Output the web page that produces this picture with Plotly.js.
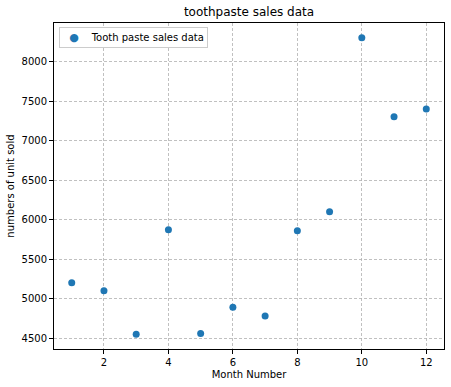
<!DOCTYPE html>
<html>
<head>
<meta charset="utf-8">
<script src="https://cdn.plot.ly/plotly-3.0.1.min.js"></script>
<style>html,body{margin:0;padding:0;background:#fff;}#chart{width:451px;height:387px;}</style>
</head>
<body>
<div id="chart"></div>
<script>
const months = [1, 2, 3, 4, 5, 6, 7, 8, 9, 10, 11, 12];
const toothpaste = [5200, 5100, 4550, 5870, 4560, 4890, 4780, 5860, 6100, 8300, 7300, 7400];
const xTicks = [2, 4, 6, 8, 10, 12];
const yTicks = [4500, 5000, 5500, 6000, 6500, 7000, 7500, 8000];
const seriesName = 'Tooth paste sales data';
const seriesColor = '#1f77b4';

const font = "DejaVu Sans, sans-serif";
const trace = {
  x: months, y: toothpaste, type: 'scatter', mode: 'markers',
  name: seriesName,
  marker: {color: seriesColor, size: 7}
};
const axisCommon = {
  showline: true, linecolor: '#000', linewidth: 1, mirror: true,
  ticks: 'outside', ticklen: 4, tickwidth: 1, tickcolor: '#000',
  showgrid: true, gridcolor: '#b0b0b0', gridwidth: 0.8, griddash: '3px,2px',
  zeroline: false, tickfont: {family: font, size: 10, color: '#000'}
};
const layout = {
  width: 451, height: 387,
  margin: {l: 54, r: 7, t: 23, b: 38},
  paper_bgcolor: '#fff', plot_bgcolor: '#fff',
  font: {family: font, size: 10, color: '#000'},
  title: {text: 'toothpaste sales data', font: {family: font, size: 12, color: '#000'}, x: 0.5, xref: 'paper', y: 1, yref: 'container', yanchor: 'top', pad: {t: 8}},
  xaxis: Object.assign({}, axisCommon, {range: [0.45, 12.55], tickvals: xTicks, title: {text: 'Month Number', font: {family: font, size: 10, color: '#000'}, standoff: 3}}),
  yaxis: Object.assign({}, axisCommon, {range: [4362.5, 8487.5], tickvals: yTicks, title: {text: 'numbers of unit sold', font: {family: font, size: 10, color: '#000'}, standoff: 5}}),
  showlegend: false,
  annotations: [{
    xref: 'paper', yref: 'paper', x: 0.0128, y: 0.988, xanchor: 'left', yanchor: 'top',
    showarrow: false, align: 'left',
    text: '  <span style="color:' + seriesColor + ';font-size:11px">●</span>    ' + seriesName,
    font: {family: font, size: 10, color: '#000'},
    bgcolor: '#fff', bordercolor: '#cccccc', borderwidth: 1, borderpad: 3
  }]
};
Plotly.newPlot('chart', [trace], layout, {displayModeBar: false, staticPlot: true});
</script>
</body>
</html>
